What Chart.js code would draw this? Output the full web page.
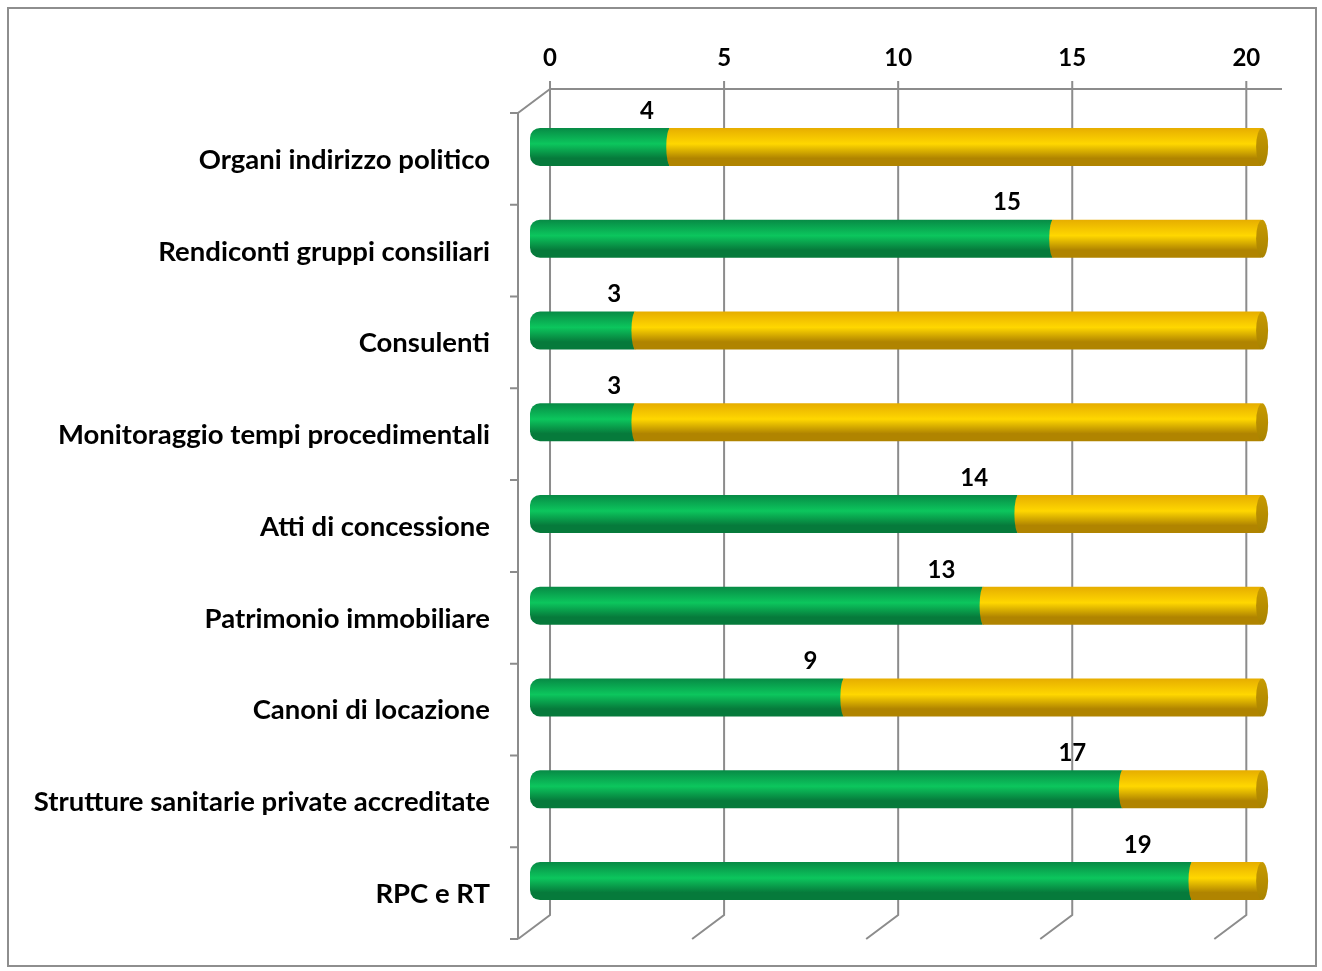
<!DOCTYPE html>
<html>
<head>
<meta charset="utf-8">
<script src="https://cdn.jsdelivr.net/npm/chart.js@4.4.1/dist/chart.umd.min.js"></script>
<style>
  html, body { margin: 0; padding: 0; background: #fff; }
  #wrap { position: relative; width: 1322px; height: 971px; }
  #frame { position: absolute; left: 7px; top: 7px; width: 1310px; height: 960px; border: 2px solid #8e8e8e; box-sizing: border-box; }
  canvas { position: absolute; left: 0; top: 0; }
</style>
</head>
<body>
<div id="wrap">
  <div id="frame"></div>
  <canvas id="chart" width="1322" height="971"></canvas>
</div>
<script>
// categories top to bottom
const categories = [
  'Organi indirizzo politico',
  'Rendiconti gruppi consiliari',
  'Consulenti',
  'Monitoraggio tempi procedimentali',
  'Atti di concessione',
  'Patrimonio immobiliare',
  'Canoni di locazione',
  'Strutture sanitarie private accreditate',
  'RPC e RT'
];
// green part (labelled) and yellow remainder, 21 in total per row
const greenValues = [4, 15, 3, 3, 14, 13, 9, 17, 19];
const yellowValues = [17, 6, 18, 18, 7, 8, 12, 4, 2];
const xTicks = [0, 5, 10, 15, 20];

const FONT = { family: 'Lato', size: 24, weight: 'bold' };
const CAT_FONT = { family: 'Lato', size: 27.5, weight: 'bold' };
const BAR_MAX = 21.6;   // range of the (hidden) bar axis
const SHIFT = 0.575;    // back wall sits ~20px right of the bars (3D look)
const LINE = '#8c8c8c';

function cylinder(top, mid, bottom) {
  return function (c) {
    const chart = c.chart;
    if (!chart.chartArea || c.dataIndex === undefined) return mid;
    const y = chart.scales.y.getPixelForValue(c.dataIndex);
    const g = chart.ctx.createLinearGradient(0, y - 19, 0, y + 19);
    g.addColorStop(0, top);
    g.addColorStop(0.42, mid);
    g.addColorStop(0.8, bottom);
    g.addColorStop(1, bottom);
    return g;
  };
}
const greenFill = cylinder('#078a45', '#0cc65d', '#067a3b');
const yellowFill = cylinder('#e6ad00', '#ffd700', '#b08400');

// 3D frame: back wall grid, left wall, floor
const framePlugin = {
  id: 'frame3d',
  beforeDatasetsDraw(chart) {
    const { ctx, chartArea: ca, scales } = chart;
    const xs = scales.xTop;
    const backTop = ca.top - 12, backBottom = ca.bottom - 12;
    const frontLeft = ca.left - 12, frontTop = ca.top + 12, frontBottom = ca.bottom + 11;
    const x0 = xs.getPixelForValue(0);
    ctx.save();
    ctx.strokeStyle = LINE;
    ctx.lineWidth = 2;
    ctx.beginPath();
    ctx.moveTo(x0, backTop); ctx.lineTo(ca.right, backTop);
    xs.ticks.forEach(t => {
      const x = xs.getPixelForValue(t.value);
      ctx.moveTo(x, backTop - 8); ctx.lineTo(x, backBottom); ctx.lineTo(x - 32, backBottom + 24);
    });
    ctx.moveTo(x0, backTop); ctx.lineTo(frontLeft, frontTop); ctx.lineTo(frontLeft, frontBottom);
    const step = (ca.bottom - ca.top) / categories.length;
    for (let i = 0; i <= categories.length; i++) {
      const y = frontTop + step * i;
      ctx.moveTo(frontLeft, y); ctx.lineTo(frontLeft - 8, y);
    }
    ctx.stroke();
    ctx.restore();
  },
  afterDatasetsDraw(chart) {
    const { ctx, scales } = chart;
    const yMeta = chart.getDatasetMeta(1);
    const gMeta = chart.getDatasetMeta(0);
    ctx.save();
    yMeta.data.forEach((el, i) => {
      const h = el.height / 2;
      // rounded joint on the left of the yellow part
      ctx.fillStyle = yellowFill({ chart, dataIndex: i });
      ctx.beginPath();
      ctx.ellipse(el.base + 1, el.y, 4, h, 0, Math.PI / 2, Math.PI * 1.5);
      ctx.fill();
      // end cap
      const g = ctx.createLinearGradient(0, el.y - h, 0, el.y + h);
      g.addColorStop(0, '#c79a00');
      g.addColorStop(1, '#a88200');
      ctx.fillStyle = g;
      ctx.beginPath();
      ctx.ellipse(el.x + 1, el.y, 6, h, 0, 0, Math.PI * 2);
      ctx.fill();
    });
    // value labels for the green part
    ctx.fillStyle = '#000';
    ctx.font = 'bold 24px Lato';
    ctx.textAlign = 'center';
    ctx.textBaseline = 'middle';
    gMeta.data.forEach((el, i) => {
      const v = greenValues[i];
      const x = scales.x.getPixelForValue(v * 0.94) - 14;
      ctx.fillText(String(v), x, el.y - 36);
    });
    ctx.restore();
  }
};

new Chart(document.getElementById('chart'), {
  type: 'bar',
  data: {
    labels: categories,
    datasets: [
      { label: 'green', data: greenValues, backgroundColor: greenFill, xAxisID: 'x',
        borderRadius: { topLeft: 10, bottomLeft: 10, topRight: 0, bottomRight: 0 }, borderSkipped: false },
      { label: 'yellow', data: yellowValues, backgroundColor: yellowFill, xAxisID: 'x' }
    ]
  },
  options: {
    indexAxis: 'y',
    responsive: false,
    animation: false,
    barPercentage: 0.414,
    categoryPercentage: 1,
    layout: { padding: { left: 0, right: 40, top: 0, bottom: 44 } },
    plugins: { legend: { display: false }, tooltip: { enabled: false } },
    scales: {
      x: { display: false, stacked: true, min: 0, max: BAR_MAX },
      xTop: {
        type: 'linear', position: 'top', min: -SHIFT, max: BAR_MAX - SHIFT,
        grid: { display: false, drawTicks: false }, border: { display: false },
        afterBuildTicks: s => { s.ticks = xTicks.map(v => ({ value: v })); },
        afterFit: s => { s.height = 101; },
        ticks: { padding: 28, color: '#000', font: FONT }
      },
      y: {
        stacked: true,
        grid: { display: false, drawTicks: false }, border: { display: false },
        afterFit: s => { s.width = 530; s.paddingTop = 0; s.paddingBottom = 0; },
        ticks: { padding: 40, labelOffset: 13, color: '#000', font: CAT_FONT }
      }
    }
  },
  plugins: [framePlugin]
});
</script>
</body>
</html>
